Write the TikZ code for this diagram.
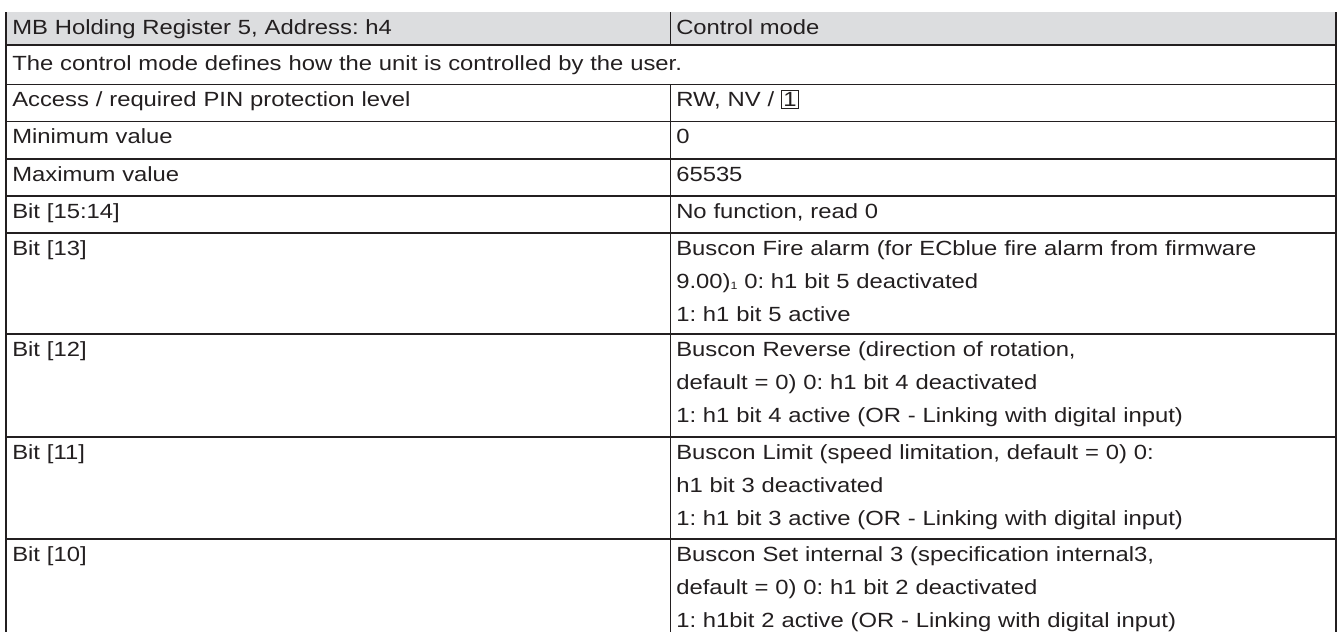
\documentclass[tikz,border=0pt]{standalone}
\usepackage{fontspec}
\setmainfont{Liberation Sans}[FakeStretch=1.16]
\definecolor{headfill}{RGB}{220,221,223}
\definecolor{tabline}{RGB}{35,31,32}
\newcommand\cellfont{\fontsize{15.4}{24.75}\selectfont\frenchspacing}
\newcommand\pinbox[1]{{\setlength\fboxsep{1pt}\setlength\fboxrule{0.8pt}\fbox{#1}}}
\newcommand\footidx[1]{\raisebox{-1pt}{\fontsize{8}{8}\selectfont #1}}

\begin{document}
\begin{tikzpicture}[x=0.75pt,y=-0.75pt,
  rule/.style={draw=tabline,line width=0.9pt},
  cell/.style={anchor=base west,inner sep=0pt,text width=490pt,align=left,
    font=\cellfont,text=tabline}]
  \useasboundingbox (0,0) rectangle (1342,632);
  % header band
  \fill[headfill] (6,12) rectangle (1336,45);
  % grid lines
  \foreach \y in {45,84.7,121.3,159,196,233,334,437,539}
    \draw[rule] (6,\y) -- (1336,\y);
  \draw[rule] (6,12) -- (6,632);
  \draw[rule] (1336,12) -- (1336,632);
  \draw[rule] (670.5,12) -- (670.5,45);
  \draw[rule] (670.5,84.7) -- (670.5,632);

  % header and description
  \node[cell] (hdrL) at (12,34) {MB Holding Register 5, Address: h4};
  \node[cell] (hdrR) at (676,34) {Control mode};
  \node[cell,text width=980pt] (desc) at (12,70) {The control mode defines how the unit is controlled by the user.};

  % one-line rows
  \node[cell] (accL) at (12,106.7) {Access / required PIN protection level};
  \node[cell] (accR) at (676,106.7) {RW, NV / \pinbox{1}};
  \node[cell] (minL) at (12,143.3) {Minimum value};
  \node[cell] (minR) at (676,143.3) {0};
  \node[cell] (maxL) at (12,181) {Maximum value};
  \node[cell] (maxR) at (676,181) {65535};
  \node[cell] (b15L) at (12,218) {Bit [15:14]};
  \node[cell] (b15R) at (676,218) {No function, read 0};

  % bit rows
  \node[cell] (b13L) at (12,255) {Bit [13]};
  \node[cell] (b13R) at (676,255) {Buscon Fire alarm (for ECblue fire alarm from firmware\\
    9.00)\footidx{1} 0: h1 bit 5 deactivated\\
    1: h1 bit 5 active};
  \node[cell] (b12L) at (12,356) {Bit [12]};
  \node[cell] (b12R) at (676,356) {Buscon Reverse (direction of rotation,\\
    default = 0) 0: h1 bit 4 deactivated\\
    1: h1 bit 4 active (OR - Linking with digital input)};
  \node[cell] (b11L) at (12,459) {Bit [11]};
  \node[cell] (b11R) at (676,459) {Buscon Limit (speed limitation, default = 0) 0:\\
    h1 bit 3 deactivated\\
    1: h1 bit 3 active (OR - Linking with digital input)};
  \node[cell] (b10L) at (12,561) {Bit [10]};
  \node[cell] (b10R) at (676,561) {Buscon Set internal 3 (specification internal3,\\
    default = 0) 0: h1 bit 2 deactivated\\
    1: h1bit 2 active (OR - Linking with digital input)};
\end{tikzpicture}
\end{document}
